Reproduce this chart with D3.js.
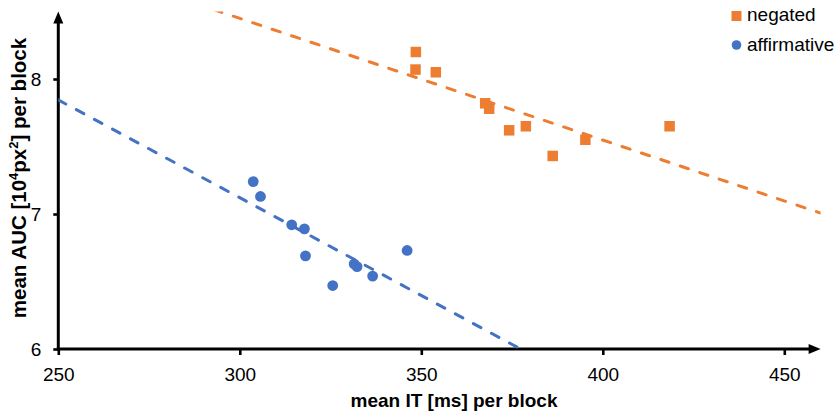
<!DOCTYPE html>
<html>
<head>
<meta charset="utf-8">
<script src="https://cdn.jsdelivr.net/npm/d3@7/dist/d3.min.js"></script>
<style>
  html, body { margin: 0; padding: 0; background: #fff; }
  svg { display: block; font-family: "Liberation Sans", Arial, Helvetica, sans-serif; }
</style>
</head>
<body>
<svg id="chart" width="840" height="415"></svg>
<script>
// Mean inspection time (ms) and mean area under curve (10^4 px^2) per block
const negatedIT  = [348.5, 348.4, 354.0, 367.6, 368.7, 374.2, 378.8, 386.2, 395.2, 418.4];
const negatedAUC = [8.20, 8.07, 8.05, 7.82, 7.78, 7.62, 7.65, 7.43, 7.55, 7.65];
const affirmativeIT  = [303.7, 305.7, 314.3, 317.8, 318.1, 331.5, 332.3, 336.6, 325.6, 346.1];
const affirmativeAUC = [7.24, 7.13, 6.92, 6.89, 6.69, 6.63, 6.61, 6.54, 6.47, 6.73];
const xTicks = [250, 300, 350, 400, 450];
const yTicks = [6, 7, 8];
const seriesNames = ["negated", "affirmative"];

const ORANGE = "#ED7D31";
const BLUE = "#4472C4";

const svg = d3.select("#chart");
const x = d3.scaleLinear().domain([250, 460]).range([58.3, 820.6]);
const y = d3.scaleLinear().domain([6, 8.5]).range([349, 11.5]);

// least-squares linear trend
function fit(xs, ys) {
  const n = xs.length;
  const mx = d3.mean(xs), my = d3.mean(ys);
  let sxy = 0, sxx = 0;
  for (let i = 0; i < n; i++) {
    sxy += (xs[i] - mx) * (ys[i] - my);
    sxx += (xs[i] - mx) * (xs[i] - mx);
  }
  const b = sxy / sxx;
  return v => my + b * (v - mx);
}

svg.append("defs").append("clipPath").attr("id", "plot-clip")
  .append("rect")
  .attr("x", x.range()[0]).attr("y", y.range()[1])
  .attr("width", x.range()[1] - x.range()[0])
  .attr("height", y.range()[0] - y.range()[1]);

// axes
const xAxis = svg.append("g")
  .attr("transform", `translate(0,${y(6)})`)
  .call(d3.axisBottom(x).tickValues(xTicks).tickFormat(d3.format("d"))
    .tickSize(6).tickSizeOuter(0).tickPadding(13));
const yAxis = svg.append("g")
  .attr("transform", `translate(${x(250)},0)`)
  .call(d3.axisLeft(y).tickValues(yTicks).tickFormat(d3.format("d"))
    .tickSize(5).tickSizeOuter(0).tickPadding(12));
[xAxis, yAxis].forEach(g => {
  g.select(".domain").remove();
  g.selectAll(".tick line").attr("stroke", "#000").attr("stroke-width", 2.6);
  g.selectAll(".tick text").attr("fill", "#000").style("font-size", "19px")
    .style("font-family", "'Liberation Sans', Arial, sans-serif");
});

// axis lines with arrowheads
const x0 = x(250), yb = y(6), xEnd = x.range()[1], yTop = y.range()[1];
svg.append("line").attr("x1", x0 - 1.5).attr("y1", yb).attr("x2", xEnd - 8).attr("y2", yb)
  .attr("stroke", "#000").attr("stroke-width", 3);
svg.append("line").attr("x1", x0).attr("y1", yb + 1.5).attr("x2", x0).attr("y2", yTop + 8)
  .attr("stroke", "#000").attr("stroke-width", 3);
svg.append("path")
  .attr("d", `M${xEnd},${yb} L${xEnd - 12},${yb - 5} L${xEnd - 12},${yb + 5} Z`)
  .attr("fill", "#000");
svg.append("path")
  .attr("d", `M${x0},${yTop} L${x0 - 5},${yTop + 12} L${x0 + 5},${yTop + 12} Z`)
  .attr("fill", "#000");

// points
const plot = svg.append("g");
const sq = 10.5;
plot.selectAll("rect.neg").data(negatedIT.map((v, i) => [v, negatedAUC[i]]))
  .join("rect").attr("class", "neg")
  .attr("x", d => x(d[0]) - sq / 2).attr("y", d => y(d[1]) - sq / 2)
  .attr("width", sq).attr("height", sq).attr("fill", ORANGE);
plot.selectAll("circle.aff").data(affirmativeIT.map((v, i) => [v, affirmativeAUC[i]]))
  .join("circle").attr("class", "aff")
  .attr("cx", d => x(d[0])).attr("cy", d => y(d[1])).attr("r", 5.4)
  .attr("fill", BLUE);

// dashed trend lines
const trends = svg.append("g").attr("clip-path", "url(#plot-clip)");
[[negatedIT, negatedAUC, ORANGE], [affirmativeIT, affirmativeAUC, BLUE]].forEach(([xs, ys, c]) => {
  const f = fit(xs, ys);
  trends.append("line")
    .attr("x1", x(250)).attr("y1", y(f(250)))
    .attr("x2", x(460)).attr("y2", y(f(460)))
    .attr("stroke", c).attr("stroke-width", 3)
    .attr("stroke-dasharray", "8.5,12").attr("stroke-linecap", "round");
});

// axis titles
svg.append("text").attr("x", 454).attr("y", 406.5).attr("text-anchor", "middle")
  .style("font-size", "19px").style("font-weight", "bold")
  .text("mean IT [ms] per block");
const yt = svg.append("text").attr("transform", "translate(25.5,178) rotate(-90)")
  .attr("text-anchor", "middle").style("font-size", "20.5px").style("font-weight", "bold");
yt.append("tspan").text("mean AUC [10");
yt.append("tspan").attr("dy", -7.5).style("font-size", "13px").text("4");
yt.append("tspan").attr("dy", 7.5).text("px");
yt.append("tspan").attr("dy", -7.5).style("font-size", "13px").text("2");
yt.append("tspan").attr("dy", 7.5).text("] per block");

// legend
const lg = svg.append("g");
lg.append("rect").attr("x", 731.5).attr("y", 11).attr("width", 10).attr("height", 10).attr("fill", ORANGE);
lg.append("circle").attr("cx", 736.5).attr("cy", 45).attr("r", 4.8).attr("fill", BLUE);
lg.append("text").attr("x", 747).attr("y", 20.5).style("font-size", "19px").text(seriesNames[0]);
lg.append("text").attr("x", 747).attr("y", 51).style("font-size", "19px").text(seriesNames[1]);
</script>
</body>
</html>
